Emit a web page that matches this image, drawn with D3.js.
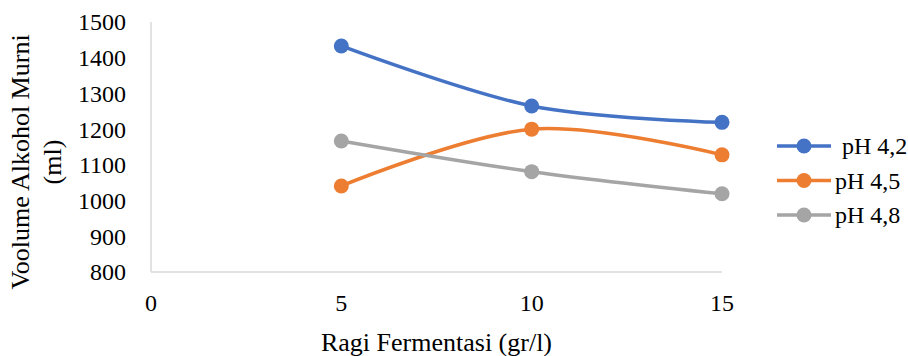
<!DOCTYPE html>
<html>
<head>
<meta charset="utf-8">
<script src="https://cdn.jsdelivr.net/npm/d3@7"></script>
<style>
  body { margin: 0; background: #fff; }
  text { font-family: "Liberation Serif", "Times New Roman", serif; fill: #000; }
</style>
</head>
<body>
<div id="container"></div>
<script>
const width = 908,
  height = 356;

/* DATA */
const ragi = [5, 10, 15]
const seriesNames = ["pH 4,2", "pH 4,5", "pH 4,8"]
const ph42 = [1433, 1265, 1219]
const ph45 = [1041, 1200, 1128]
const ph48 = [1167, 1081, 1019]
const xTicks = [0, 5, 10, 15]
const yTicks = [800, 900, 1000, 1100, 1200, 1300, 1400, 1500]
const colors = ["#4472C4", "#ED7D31", "#A5A5A5"]

const series = [ph42, ph45, ph48].map((vals, i) => ({
  name: seriesNames[i],
  color: colors[i],
  points: vals.map((v, j) => ({ x: ragi[j], y: v }))
}))

/* SCALES */
const xScale = d3.scaleLinear()
  .domain([0, 15])
  .range([151, 722])

const yScale = d3.scaleLinear()
  .domain([800, 1500])
  .range([272, 22])

const svg = d3.select("#container").append("svg")
  .attr("width", width)
  .attr("height", height)

// axis lines (no ticks, light gray)
svg.append("line")
  .attr("x1", xScale(0)).attr("x2", xScale(0))
  .attr("y1", yScale(1500)).attr("y2", yScale(800))
  .attr("stroke", "#d9d9d9").attr("stroke-width", 1.5)

svg.append("line")
  .attr("x1", xScale(0)).attr("x2", xScale(15))
  .attr("y1", yScale(800)).attr("y2", yScale(800))
  .attr("stroke", "#d9d9d9").attr("stroke-width", 1.5)

// tick labels
svg.selectAll("text.ytick")
  .data(yTicks)
  .join("text")
  .attr("class", "ytick")
  .attr("x", 126)
  .attr("y", d => yScale(d))
  .attr("dy", "0.35em")
  .attr("text-anchor", "end")
  .attr("font-size", "24px")
  .text(d => d)

svg.selectAll("text.xtick")
  .data(xTicks)
  .join("text")
  .attr("class", "xtick")
  .attr("x", d => xScale(d))
  .attr("y", 311)
  .attr("text-anchor", "middle")
  .attr("font-size", "24px")
  .text(d => d)

// axis titles
svg.append("text")
  .attr("x", xScale(7.5))
  .attr("y", 351)
  .attr("text-anchor", "middle")
  .attr("font-size", "26px")
  .text("Ragi Fermentasi (gr/l)")

const yTitle = svg.append("text")
  .attr("transform", "translate(29,162) rotate(-90)")
  .attr("text-anchor", "middle")
  .attr("font-size", "26px")
yTitle.append("tspan").attr("x", 0).attr("y", 0).text("Voolume Alkohol Murni")
yTitle.append("tspan").attr("x", 0).attr("y", 32).text("(ml)")

// lines
const line = d3.line()
  .x(d => xScale(d.x))
  .y(d => yScale(d.y))
  .curve(d3.curveCardinal.tension(0))

svg.selectAll("path.series")
  .data(series)
  .join("path")
  .attr("class", "series")
  .attr("d", d => line(d.points))
  .attr("fill", "none")
  .attr("stroke", d => d.color)
  .attr("stroke-width", 3.5)
  .attr("stroke-linecap", "round")

series.forEach(s => {
  svg.selectAll("circle.m" + s.name.replace(/\W/g, ""))
    .data(s.points)
    .join("circle")
    .attr("cx", d => xScale(d.x))
    .attr("cy", d => yScale(d.y))
    .attr("r", 7.5)
    .attr("fill", s.color)
})

// legend
const legend = svg.selectAll("g.legend")
  .data(series)
  .join("g")
  .attr("class", "legend")
  .attr("transform", (d, i) => `translate(777, ${146 + i * 34.5})`)

legend.append("line")
  .attr("x1", 0).attr("x2", 54)
  .attr("stroke", d => d.color)
  .attr("stroke-width", 3.5)

legend.append("circle")
  .attr("cx", 27)
  .attr("r", 7.5)
  .attr("fill", d => d.color)

legend.append("text")
  .attr("x", (d, i) => i == 0 ? 65 : 58)
  .attr("dy", "0.35em")
  .attr("font-size", "24px")
  .text(d => d.name)
</script>
</body>
</html>
